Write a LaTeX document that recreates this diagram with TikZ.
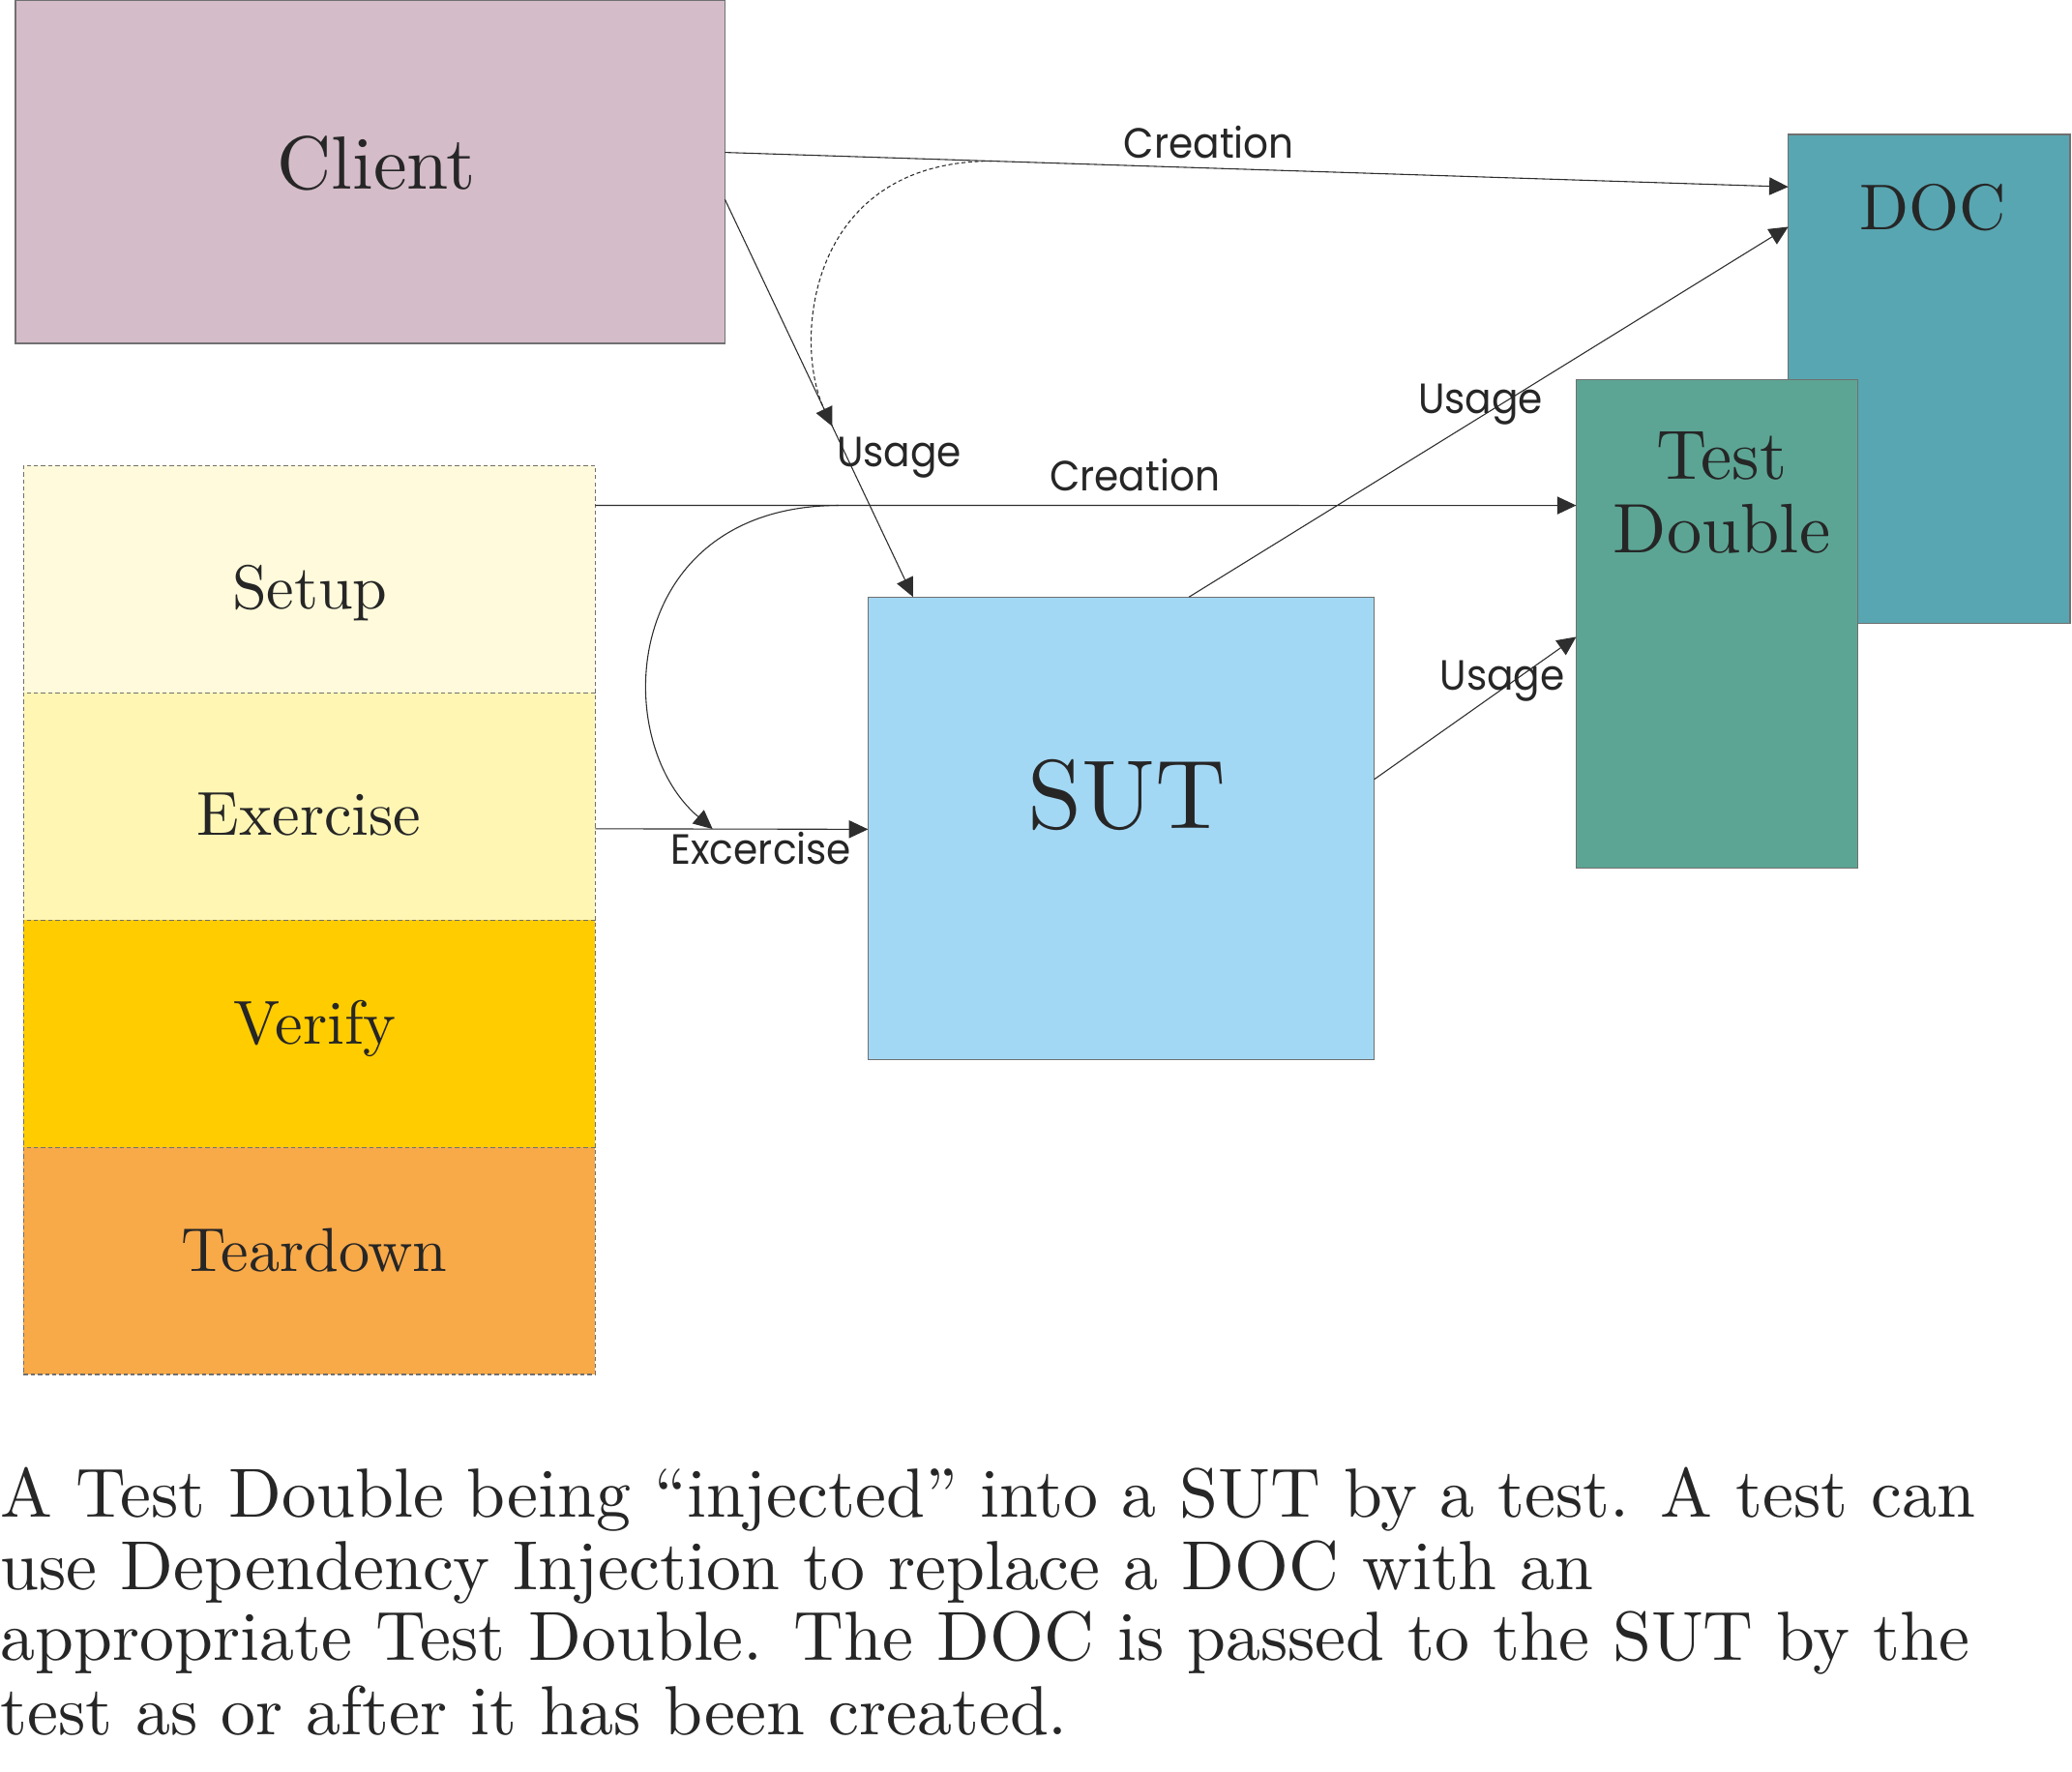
\documentclass[tikz,border=0pt]{standalone}
\usepackage{fontspec}
\newfontfamily\lblfont{Poppins}[FakeStretch=0.93]
\newfontfamily\serif{lmroman10-regular.otf}
\usetikzlibrary{arrows.meta,calc}
\definecolor{clientc}{HTML}{D4BCC8}
\definecolor{docc}{HTML}{58A6B1}
\definecolor{tdc}{HTML}{5CA594}
\definecolor{sutc}{HTML}{A3D8F5}
\definecolor{setupc}{HTML}{FEFADB}
\definecolor{exercc}{HTML}{FFF6B4}
\definecolor{verifyc}{HTML}{FFCC00}
\definecolor{teardc}{HTML}{F8A948}
\definecolor{textc}{HTML}{262626}
\definecolor{linec}{HTML}{2E2E2E}
\definecolor{boxline}{HTML}{707070}
\begin{document}
\begin{tikzpicture}[x=0.5pt,y=-0.5pt,
  box/.style={draw=boxline, line width=0.5pt, rectangle, inner sep=0pt, outer sep=0pt, anchor=north west},
  phase/.style={draw=boxline, line width=0.4pt, dash pattern=on 1.6pt off 1.1pt, rectangle, inner sep=0pt, outer sep=0pt, anchor=north west, minimum width=216.25pt, minimum height=86pt},
  conn/.style={draw=linec, line width=0.4pt, -{Triangle[length=7.2pt,width=6.7pt]}},
  dconn/.style={conn, dash pattern=on 1.5pt off 1pt},
  lbl/.style={font=\lblfont\fontsize{16}{16}\selectfont, text=textc, inner sep=0pt, anchor=base},
  boxtxt/.style={text=textc, inner sep=0pt, anchor=base},
  captxt/.style={text=textc, inner sep=0pt, anchor=base west, font=\serif\fontsize{26.3}{26.3}\selectfont}
]
\useasboundingbox (0,0) rectangle (1568,1341);

% boxes
\node[box, fill=clientc, minimum width=268.4pt, minimum height=129.9pt] (client) at (11.8,0) {};
\node[box, fill=docc, minimum width=106.55pt, minimum height=185.1pt] (doc) at (1353.3,101.8) {};
\node[box, fill=tdc, minimum width=106.55pt, minimum height=184.85pt] (td) at (1192.8,287.5) {};
\node[box, fill=sutc, minimum width=191.55pt, minimum height=175.1pt] (sut) at (656.9,451.8) {};
\node[phase, fill=setupc] (setup) at (17.9,352.2) {};
\node[phase, fill=exercc] (exercise) at (17.9,524.2) {};
\node[phase, fill=verifyc] (verify) at (17.9,696.2) {};
\node[phase, fill=teardc] (teardown) at (17.9,868.2) {};

% box texts
\node[boxtxt, font=\serif\fontsize{28.5}{28.5}\selectfont] (tclient) at (285,143) {Client};
\node[boxtxt, font=\serif\fontsize{24.5}{24.5}\selectfont] (tdoc) at (1462.5,173.5) {DOC};
\node[boxtxt, font=\serif\fontsize{26.5}{26.5}\selectfont] (ttest) at (1303,363) {Test};
\node[boxtxt, font=\serif\fontsize{26.5}{26.5}\selectfont] (tdouble) at (1303,418) {Double};
\node[boxtxt, font=\serif\fontsize{37}{37}\selectfont] (tsut) at (852.5,627) {SUT};
\node[boxtxt, font=\serif\fontsize{23.5}{23.5}\selectfont] (tsetup) at (234.5,461) {Setup};
\node[boxtxt, font=\serif\fontsize{23.5}{23.5}\selectfont] (texercise) at (234,632) {Exercise};
\node[boxtxt, font=\serif\fontsize{23.5}{23.5}\selectfont] (tverify) at (238.5,790) {Verify};
\node[boxtxt, font=\serif\fontsize{23.5}{23.5}\selectfont] (tteardown) at (238,962.5) {Teardown};

% connector end points on the box borders
\coordinate (cr1s) at ($(client.north east)!0.444!(client.south east)$);
\coordinate (cr1e) at ($(doc.north west)!0.107!(doc.south west)$);
\coordinate (us1s) at ($(client.north east)!0.581!(client.south east)$);
\coordinate (us1e) at ($(sut.north west)!0.089!(sut.north east)$);
\coordinate (cr2s) at ($(setup.north east)!0.176!(setup.south east)$);
\coordinate (cr2e) at ($(td.north west)!0.257!(td.south west)$);
\coordinate (exs) at ($(exercise.north east)!0.599!(exercise.south east)$);
\coordinate (exe) at ($(sut.north west)!0.502!(sut.south west)$);
\coordinate (us2s) at ($(sut.north west)!0.634!(sut.north east)$);
\coordinate (us2e) at ($(doc.north west)!0.1886!(doc.south west)$);
\coordinate (us3s) at ($(sut.north east)!0.394!(sut.south east)$);
\coordinate (us3e) at ($(td.north west)!0.526!(td.south west)$);
\coordinate (d1s) at ($(cr1s)!0.251!(cr1e)$);
\coordinate (d1e) at ($(us1s)!0.571!(us1e)$);
\coordinate (d2s) at ($(cr2s)!0.248!(cr2e)$);
\coordinate (d2e) at ($(exs)!0.4305!(exe)$);

% connectors
\draw[conn] (cr1s) -- (cr1e);
\draw[conn] (us1s) -- (us1e);
\draw[conn] (cr2s) -- (cr2e);
\draw[conn] (exs) -- (exe);
\draw[conn] (us2s) -- (us2e);
\draw[conn] (us3s) -- (us3e);
\draw[dconn] (d1s) .. controls (610,122) and (600,260) .. (d1e);
\draw[conn] (d2s) .. controls (470,383) and (460,560) .. (d2e);

% connector labels
\node[lbl] (lcr1) at (915,120) {Creation};
\node[lbl] (lus1) at (680.5,353) {Usage};
\node[lbl] (lcr2) at (858.8,371.6) {Creation};
\node[lbl] (lus2) at (1120.5,313) {Usage};
\node[lbl] (lus3) at (1137,522) {Usage};
\node[lbl] (lex) at (576,654) {Excercise};

% caption
\node[captxt] (cap1) at (0,1148) {A Test Double being “injected” into a SUT by a test. A test can};
\node[captxt] (cap2) at (0,1203) {use Dependency Injection to replace a DOC with an};
\node[captxt] (cap3) at (0,1256.6) {appropriate Test Double. The DOC is passed to the SUT by the};
\node[captxt] (cap4) at (0,1312.7) {test as or after it has been created.};
\end{tikzpicture}
\end{document}
